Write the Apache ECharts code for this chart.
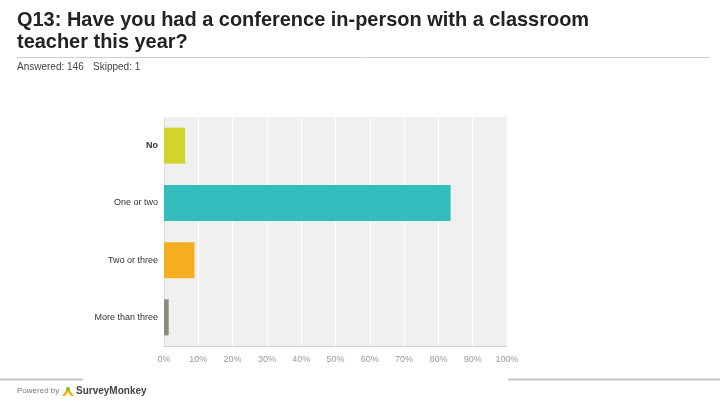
<!DOCTYPE html>
<html><head><meta charset="utf-8">
<script src="https://cdn.jsdelivr.net/npm/echarts@6/dist/echarts.min.js"></script>
<style>html,body{margin:0;padding:0;background:#fff}#c{width:720px;height:405px}</style>
</head><body><div id="c"></div>
<script>
const categories = ['No', 'One or two', 'Two or three', 'More than three'];
const values = [6.16, 83.56, 8.90, 1.37];
const barColors = ['#d1d52b', '#33bdbd', '#f5ae1f', '#8a8b7d'];
const tickLabels = ['0%','10%','20%','30%','40%','50%','60%','70%','80%','90%','100%'];

const chart = echarts.init(document.getElementById('c'));
chart.setOption({
  animation: false,
  backgroundColor: '#fff',
  grid: { left: 164, right: 213, top: 117, bottom: 59, show: true, backgroundColor: '#f0f0f0', borderWidth: 0 },
  xAxis: {
    type: 'value', min: 0, max: 100, interval: 10,
    axisLine: { show: true, lineStyle: { color: '#d0d0d0' } },
    axisTick: { show: false },
    splitLine: { show: true, lineStyle: { color: '#ffffff', width: 1 } },
    axisLabel: { color: '#9a9a9a', fontSize: 9, fontFamily: 'Liberation Sans', margin: 9,
      formatter: (v) => tickLabels[Math.round(v / 10)] }
  },
  yAxis: {
    type: 'category', data: categories, inverse: true,
    axisLine: { show: true, lineStyle: { color: '#e0e0e0' } },
    axisTick: { show: false },
    axisLabel: { color: '#333', fontSize: 9, fontFamily: 'Liberation Sans', margin: 6,
      formatter: (v) => v === 'No' ? '{b|' + v + '}' : v,
      rich: { b: { fontWeight: 'bold', fontSize: 9, color: '#333', fontFamily: 'Liberation Sans' } } }
  },
  series: [{
    type: 'bar', barWidth: 36,
    data: values.map((v, i) => ({ value: v, itemStyle: { color: barColors[i] } }))
  }],
  graphic: [
    { type: 'text', x: 17, y: 10, scaleX: 0.95, style: { text: 'Q13: Have you had a conference in-person with a classroom', font: 'bold 21px "Liberation Sans"', fill: '#222' } },
    { type: 'text', x: 17, y: 32, scaleX: 0.95, style: { text: 'teacher this year?', font: 'bold 21px "Liberation Sans"', fill: '#222' } },
    { type: 'line', shape: { x1: 17, y1: 57.5, x2: 710, y2: 57.5 }, style: { stroke: '#cfcfcf', lineWidth: 1 } },
    { type: 'text', left: 17, top: 62, style: { text: 'Answered: 146', font: '10px "Liberation Sans"', fill: '#444' } },
    { type: 'text', left: 93, top: 62, style: { text: 'Skipped: 1', font: '10px "Liberation Sans"', fill: '#444' } },
    { type: 'line', shape: { x1: 0, y1: 379.5, x2: 83, y2: 379.5 }, style: { stroke: '#c8c8c8', lineWidth: 2 } },
    { type: 'line', shape: { x1: 508, y1: 379.5, x2: 720, y2: 379.5 }, style: { stroke: '#c8c8c8', lineWidth: 2 } },
    { type: 'text', left: 17, top: 387, style: { text: 'Powered by', font: '8px "Liberation Sans"', fill: '#777' } },
    { type: 'polygon', shape: { points: [[62, 396], [68, 388], [74, 396], [71, 396], [68, 392], [65, 396]] }, style: { fill: '#f0b400' } },
    { type: 'circle', shape: { cx: 68, cy: 389, r: 2 }, style: { fill: '#8cb81e' } },
    { type: 'text', left: 76, top: 386, style: { text: 'SurveyMonkey', font: 'bold 10px "Liberation Sans"', fill: '#444' } }
  ]
});
</script></body></html>
